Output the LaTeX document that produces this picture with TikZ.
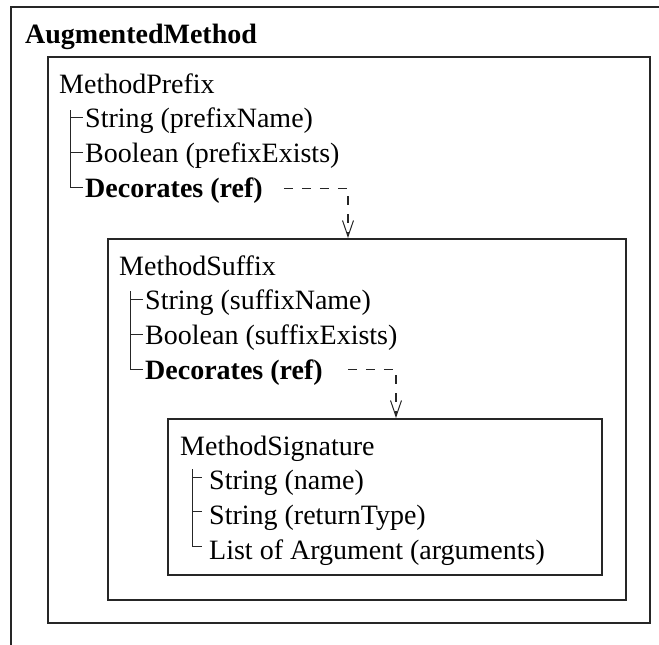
\documentclass[tikz,border=0pt]{standalone}
\usepackage{fontspec}
\setmainfont{Liberation Serif}
\usetikzlibrary{arrows.meta}
\begin{document}
\begin{tikzpicture}[x=1pt,y=-1pt,
  frame/.style={draw=black!85, line width=1.4pt},
  panel/.style={draw=black!85, line width=1.5pt, rectangle, inner sep=0pt, anchor=north west},
  txt/.style={anchor=base west, inner sep=0pt, font=\fontsize{28}{34}\selectfont},
  treeline/.style={draw=black!85, line width=1pt},
  refarrow/.style={draw=black!85, line width=1.1pt, dash pattern=on 9pt off 9pt,
    -{Straight Barb[length=16pt,width=11pt,line width=1pt]}}
]
\useasboundingbox (0,0) rectangle (659,645);

% enclosing frame (only top and left edges are in view)
\draw[frame] (659,7) -- (11,7) -- (11,645);
\node[txt] (title) at (25,43) {\bfseries AugmentedMethod};

% nested panels
\node[panel, minimum width=602pt, minimum height=566pt] (prefix) at (47,56) {};
\node[panel, minimum width=518pt, minimum height=361pt] (suffix) at (107,238) {};
\node[panel, minimum width=434pt, minimum height=156pt] (sig) at (167,418) {};

% MethodPrefix
\node[txt] (pname) at (59,93) {MethodPrefix};
\node[txt] (p1) at (85,127.7) {String (prefixName)};
\node[txt] (p2) at (85,162.4) {Boolean (prefixExists)};
\node[txt] (p3) at (85,197.1) {\bfseries Decorates (ref)};
\draw[treeline] (70,110) |- ([xshift=-2pt,yshift=3pt]p3.west);
\draw[treeline] ([yshift=3pt]p1.west -| 70,0) -- ([xshift=-2pt,yshift=3pt]p1.west);
\draw[treeline] ([yshift=3pt]p2.west -| 70,0) -- ([xshift=-2pt,yshift=3pt]p2.west);

% MethodSuffix
\node[txt] (sname) at (119,275) {MethodSuffix};
\node[txt] (s1) at (145,309.7) {String (suffixName)};
\node[txt] (s2) at (145,344.4) {Boolean (suffixExists)};
\node[txt] (s3) at (145,379.1) {\bfseries Decorates (ref)};
\draw[treeline] (130,291) |- ([xshift=-2pt,yshift=3pt]s3.west);
\draw[treeline] ([yshift=3pt]s1.west -| 130,0) -- ([xshift=-2pt,yshift=3pt]s1.west);
\draw[treeline] ([yshift=3pt]s2.west -| 130,0) -- ([xshift=-2pt,yshift=3pt]s2.west);

% MethodSignature
\node[txt] (gname) at (180,455) {MethodSignature};
\node[txt] (g1) at (209,489.7) {String (name)};
\node[txt] (g2) at (209,524.4) {String (returnType)};
\node[txt] (g3) at (209,559.1) {List of Argument (arguments)};
\draw[treeline] (192,469) |- ([xshift=-7pt,yshift=6pt]g3.west);
\draw[treeline] ([yshift=6pt]g1.west -| 192,0) -- ([xshift=-7pt,yshift=6pt]g1.west);
\draw[treeline] ([yshift=6pt]g2.west -| 192,0) -- ([xshift=-7pt,yshift=6pt]g2.west);

% decoration references
\draw[refarrow] ([xshift=21pt,yshift=2pt]p3.east) -| ([xshift=241pt]suffix.north west);
\draw[refarrow] ([xshift=25pt,yshift=3pt]s3.east) -| ([xshift=229pt]sig.north west);
\end{tikzpicture}
\end{document}
